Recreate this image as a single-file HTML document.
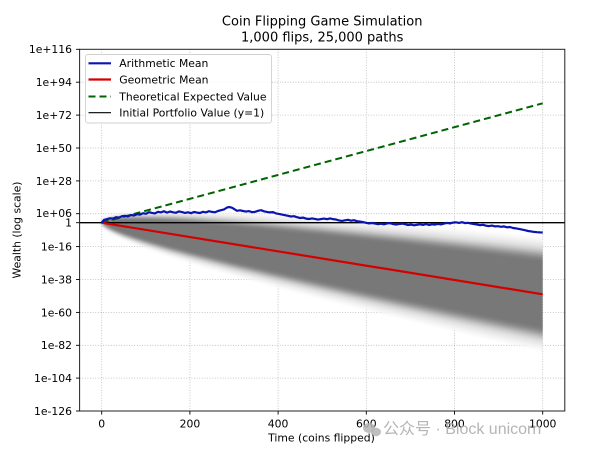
<!DOCTYPE html>
<html><head><meta charset="utf-8"><style>
html,body{margin:0;padding:0;background:#fff;}
svg{display:block;font-family:"DejaVu Sans","Liberation Sans",sans-serif;}
</style></head><body>
<svg width="600" height="459" viewBox="0 0 600 459" xmlns="http://www.w3.org/2000/svg">
<rect width="600" height="459" fill="#fff"/>
<text x="322.2" y="25.5" font-size="13" text-anchor="middle" fill="#000">Coin Flipping Game Simulation</text>
<text x="322.2" y="41.5" font-size="13" text-anchor="middle" fill="#000">1,000 flips, 25,000 paths</text>
<defs>
<clipPath id="pa"><rect x="79.6" y="49.3" width="485.2" height="361.7"/></clipPath>
<clipPath id="pb"><rect x="79.6" y="49.3" width="463.1" height="361.7"/></clipPath>
<filter id="bl" x="-5%" y="-20%" width="110%" height="140%"><feGaussianBlur stdDeviation="1.6"/></filter>
</defs>
<g stroke="#b8b8b8" stroke-width="0.8" stroke-dasharray="1,1.6" fill="none">
<line x1="101.7" y1="49.3" x2="101.7" y2="411"/><line x1="189.9" y1="49.3" x2="189.9" y2="411"/><line x1="278.1" y1="49.3" x2="278.1" y2="411"/><line x1="366.3" y1="49.3" x2="366.3" y2="411"/><line x1="454.5" y1="49.3" x2="454.5" y2="411"/><line x1="542.7" y1="49.3" x2="542.7" y2="411"/>
<line x1="79.6" y1="82.2" x2="564.8" y2="82.2"/><line x1="79.6" y1="115.1" x2="564.8" y2="115.1"/><line x1="79.6" y1="148" x2="564.8" y2="148"/><line x1="79.6" y1="180.9" x2="564.8" y2="180.9"/><line x1="79.6" y1="213.7" x2="564.8" y2="213.7"/><line x1="79.6" y1="246.6" x2="564.8" y2="246.6"/><line x1="79.6" y1="279.5" x2="564.8" y2="279.5"/><line x1="79.6" y1="312.4" x2="564.8" y2="312.4"/><line x1="79.6" y1="345.3" x2="564.8" y2="345.3"/><line x1="79.6" y1="378.1" x2="564.8" y2="378.1"/>
</g>
<g clip-path="url(#pb)">
<g filter="url(#bl)">
<path fill="#f4f4f4" transform="matrix(0.441 0.0716 0 56 101.7 222.7)" d="M0,0 L2,-0.0447 5,-0.0707 10,-0.1 20,-0.1414 35,-0.1871 50,-0.2236 75,-0.2739 100,-0.3162 150,-0.3873 200,-0.4472 300,-0.5477 400,-0.6325 500,-0.7071 600,-0.7746 700,-0.8367 800,-0.8944 900,-0.9487 1000,-1 1010,-1 1010,1 1000,1 900,0.9487 800,0.8944 700,0.8367 600,0.7746 500,0.7071 400,0.6325 300,0.5477 200,0.4472 150,0.3873 100,0.3162 75,0.2739 50,0.2236 35,0.1871 20,0.1414 10,0.1 5,0.0707 2,0.0447 Z"/>
<path fill="#e4e4e4" transform="matrix(0.441 0.0716 0 51 101.7 222.7)" d="M0,0 L2,-0.0447 5,-0.0707 10,-0.1 20,-0.1414 35,-0.1871 50,-0.2236 75,-0.2739 100,-0.3162 150,-0.3873 200,-0.4472 300,-0.5477 400,-0.6325 500,-0.7071 600,-0.7746 700,-0.8367 800,-0.8944 900,-0.9487 1000,-1 1010,-1 1010,1 1000,1 900,0.9487 800,0.8944 700,0.8367 600,0.7746 500,0.7071 400,0.6325 300,0.5477 200,0.4472 150,0.3873 100,0.3162 75,0.2739 50,0.2236 35,0.1871 20,0.1414 10,0.1 5,0.0707 2,0.0447 Z"/>
<path fill="#c9c9c9" transform="matrix(0.441 0.0716 0 46 101.7 222.7)" d="M0,0 L2,-0.0447 5,-0.0707 10,-0.1 20,-0.1414 35,-0.1871 50,-0.2236 75,-0.2739 100,-0.3162 150,-0.3873 200,-0.4472 300,-0.5477 400,-0.6325 500,-0.7071 600,-0.7746 700,-0.8367 800,-0.8944 900,-0.9487 1000,-1 1010,-1 1010,1 1000,1 900,0.9487 800,0.8944 700,0.8367 600,0.7746 500,0.7071 400,0.6325 300,0.5477 200,0.4472 150,0.3873 100,0.3162 75,0.2739 50,0.2236 35,0.1871 20,0.1414 10,0.1 5,0.0707 2,0.0447 Z"/>
<path fill="#a6a6a6" transform="matrix(0.441 0.0716 0 42 101.7 222.7)" d="M0,0 L2,-0.0447 5,-0.0707 10,-0.1 20,-0.1414 35,-0.1871 50,-0.2236 75,-0.2739 100,-0.3162 150,-0.3873 200,-0.4472 300,-0.5477 400,-0.6325 500,-0.7071 600,-0.7746 700,-0.8367 800,-0.8944 900,-0.9487 1000,-1 1010,-1 1010,1 1000,1 900,0.9487 800,0.8944 700,0.8367 600,0.7746 500,0.7071 400,0.6325 300,0.5477 200,0.4472 150,0.3873 100,0.3162 75,0.2739 50,0.2236 35,0.1871 20,0.1414 10,0.1 5,0.0707 2,0.0447 Z"/>
<path fill="#888" transform="matrix(0.441 0.0716 0 38.5 101.7 222.7)" d="M0,0 L2,-0.0447 5,-0.0707 10,-0.1 20,-0.1414 35,-0.1871 50,-0.2236 75,-0.2739 100,-0.3162 150,-0.3873 200,-0.4472 300,-0.5477 400,-0.6325 500,-0.7071 600,-0.7746 700,-0.8367 800,-0.8944 900,-0.9487 1000,-1 1010,-1 1010,1 1000,1 900,0.9487 800,0.8944 700,0.8367 600,0.7746 500,0.7071 400,0.6325 300,0.5477 200,0.4472 150,0.3873 100,0.3162 75,0.2739 50,0.2236 35,0.1871 20,0.1414 10,0.1 5,0.0707 2,0.0447 Z"/>
<path fill="#787878" transform="matrix(0.441 0.0716 0 35 101.7 222.7)" d="M0,0 L2,-0.0447 5,-0.0707 10,-0.1 20,-0.1414 35,-0.1871 50,-0.2236 75,-0.2739 100,-0.3162 150,-0.3873 200,-0.4472 300,-0.5477 400,-0.6325 500,-0.7071 600,-0.7746 700,-0.8367 800,-0.8944 900,-0.9487 1000,-1 1010,-1 1010,1 1000,1 900,0.9487 800,0.8944 700,0.8367 600,0.7746 500,0.7071 400,0.6325 300,0.5477 200,0.4472 150,0.3873 100,0.3162 75,0.2739 50,0.2236 35,0.1871 20,0.1414 10,0.1 5,0.0707 2,0.0447 Z"/>
</g>
</g>
<g clip-path="url(#pa)">
<line x1="101.7" y1="222.7" x2="542.7" y2="103.3" stroke="#006400" stroke-width="2" stroke-dasharray="7,4"/>
<line x1="79.6" y1="222.7" x2="564.8" y2="222.7" stroke="#000" stroke-width="1.3"/>
<line x1="101.7" y1="222.7" x2="542.7" y2="294.3" stroke="#d40000" stroke-width="2.2"/>
<polyline fill="none" stroke="#0a14b0" stroke-width="2.2" stroke-linejoin="round" points="101.7,222.7 104,220 107,219.2 110,218.3 113,218.6 116,217.2 119,217.6 122,216.2 125,215.8 128,216.4 131,215 134,215.5 137,214.2 140,214.6 143,213.2 146,213.8 149,212.2 152,212.9 155,213.4 158,211.8 161,212.4 164,211.2 167,212.6 170,211.5 173,212.3 176,212.8 179,211.4 182,212.1 185,212.9 188,212.3 191,213.2 194,212 197,212.6 200,213 203,211.8 206,212.4 209,211.2 212,211.9 215,212.3 218,211 221,210.2 224,209.4 227,207.6 229,207 231,207.4 233,208.3 235,209.6 237,210.8 240,210.3 243,211 246,211.6 249,211.1 252,212.2 255,211.9 258,210.8 261,210.2 264,211.3 267,211.9 270,212.4 273,212.1 276,213.4 279,213.9 282,214.6 285,215.2 288,215.8 291,216.5 294,216.2 297,217.2 300,218 303,217.6 306,218.6 309,219 312,218.4 315,218.9 318,219.6 321,219.1 324,218.6 327,219.2 330,218.4 333,219.1 336,219.5 339,220.4 342,220.9 345,220.3 348,219.8 351,220.7 354,220.2 357,221.2 360,221.6 363,222.1 366,222.8 369,223.4 372,223 375,223.6 378,224.2 381,223.7 384,224.3 387,223.4 390,223.1 393,224.1 396,224.6 399,224 402,223.6 405,224.2 408,225 411,224.6 414,225.3 417,224.8 420,224.3 423,224.9 426,224.1 429,225 432,224.3 435,224.6 438,223.9 441,224.4 444,223.6 447,222.9 450,223.4 453,222.6 456,222.3 459,222.9 462,222.2 465,223.1 468,222.8 471,223.6 474,224.1 477,224.6 480,225.2 483,224.8 486,225.7 489,226.1 492,225.6 495,226.4 498,226.2 501,226.8 504,226.4 507,227.3 510,227 513,228 516,228.4 519,228.9 522,229.6 525,230.2 528,231 531,231.4 534,231.9 537,232.2 540,232.4 542.7,232.5"/>
</g>
<rect x="79.6" y="49.3" width="485.2" height="361.7" fill="none" stroke="#222" stroke-width="1"/>
<g stroke="#000" stroke-width="0.9">
<line x1="79.6" y1="49.3" x2="76" y2="49.3"/><line x1="79.6" y1="82.2" x2="76" y2="82.2"/><line x1="79.6" y1="115.1" x2="76" y2="115.1"/><line x1="79.6" y1="148" x2="76" y2="148"/><line x1="79.6" y1="180.9" x2="76" y2="180.9"/><line x1="79.6" y1="213.7" x2="76" y2="213.7"/><line x1="79.6" y1="222.7" x2="76" y2="222.7"/><line x1="79.6" y1="246.6" x2="76" y2="246.6"/><line x1="79.6" y1="279.5" x2="76" y2="279.5"/><line x1="79.6" y1="312.4" x2="76" y2="312.4"/><line x1="79.6" y1="345.3" x2="76" y2="345.3"/><line x1="79.6" y1="378.1" x2="76" y2="378.1"/><line x1="79.6" y1="411" x2="76" y2="411"/>
<line x1="101.7" y1="411" x2="101.7" y2="414.6"/><line x1="189.9" y1="411" x2="189.9" y2="414.6"/><line x1="278.1" y1="411" x2="278.1" y2="414.6"/><line x1="366.3" y1="411" x2="366.3" y2="414.6"/><line x1="454.5" y1="411" x2="454.5" y2="414.6"/><line x1="542.7" y1="411" x2="542.7" y2="414.6"/>
</g>
<g font-size="10.8" fill="#000" text-anchor="end">
<text x="72" y="53.2">1e+116</text><text x="72" y="86.1">1e+94</text><text x="72" y="119">1e+72</text><text x="72" y="151.9">1e+50</text><text x="72" y="184.8">1e+28</text><text x="72" y="217.1">1e+06</text><text x="72" y="226.6">1</text><text x="72" y="250.5">1e-16</text><text x="72" y="283.4">1e-38</text><text x="72" y="316.3">1e-60</text><text x="72" y="349.2">1e-82</text><text x="72" y="382">1e-104</text><text x="72" y="414.9">1e-126</text>
</g>
<g font-size="10.8" fill="#000" text-anchor="middle">
<text x="101.7" y="427.3">0</text><text x="189.9" y="427.3">200</text><text x="278.1" y="427.3">400</text><text x="366.3" y="427.3">600</text><text x="454.5" y="427.3">800</text><text x="542.7" y="427.3">1000</text>
<text x="321.5" y="441.3">Time (coins flipped)</text>
<text transform="translate(20.5,230) rotate(-90)">Wealth (log scale)</text>
</g>
<rect x="85.5" y="54.5" width="186" height="68.5" rx="2.5" fill="#fff" fill-opacity="0.85" stroke="#d0d0d0" stroke-width="0.9"/>
<line x1="88.5" y1="63.3" x2="111" y2="63.3" stroke="#0a14b0" stroke-width="2.2"/>
<line x1="88.5" y1="79.5" x2="111" y2="79.5" stroke="#d40000" stroke-width="2.2"/>
<line x1="88.5" y1="96.5" x2="111" y2="96.5" stroke="#006400" stroke-width="2" stroke-dasharray="7,4"/>
<line x1="88.5" y1="112.7" x2="111" y2="112.7" stroke="#000" stroke-width="1.2"/>
<g font-size="10.8" fill="#000">
<text x="119.3" y="67.2">Arithmetic Mean</text>
<text x="119.3" y="83.4">Geometric Mean</text>
<text x="119.3" y="100.4">Theoretical Expected Value</text>
<text x="119.3" y="116.6">Initial Portfolio Value (y=1)</text>
</g>
<g fill="#b4b4b4" fill-opacity="0.85">
<ellipse cx="369" cy="428" rx="6" ry="5"/>
<ellipse cx="376" cy="432" rx="5" ry="4.2"/>
</g>
<text x="383" y="434" font-size="16" fill="#a8a8a8" fill-opacity="0.85" font-family="'Liberation Sans','Noto Sans CJK SC',sans-serif">公众号 · Block unicorn</text>
</svg>
</body></html>
